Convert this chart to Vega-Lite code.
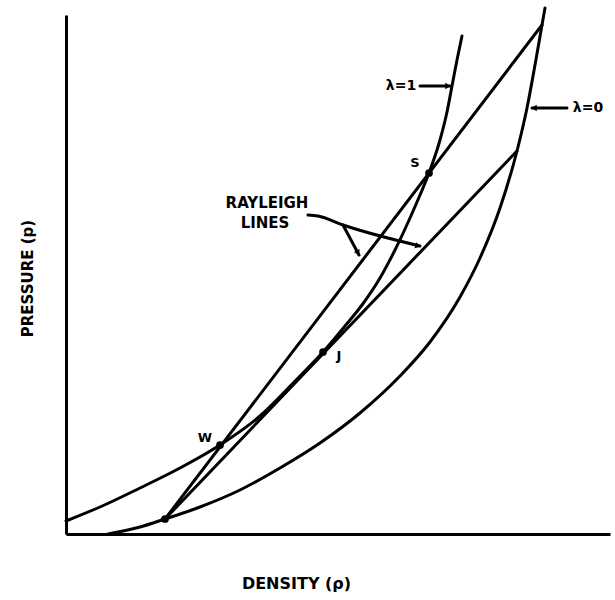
{
  "$schema": "https://vega.github.io/schema/vega-lite/v6.json",
  "width": 544,
  "height": 519,
  "autosize": {"type": "none"},
  "padding": {"left": 66, "top": 15, "right": 5, "bottom": 66},
  "background": "white",
  "config": {"view": {"stroke": null}},
  "datasets": {
    "lines": [
      {"id": "lam1", "o": 1, "x": 0, "y": 13},
      {"id": "lam1", "o": 2, "x": 34, "y": 27},
      {"id": "lam1", "o": 3, "x": 74, "y": 46},
      {"id": "lam1", "o": 4, "x": 114, "y": 66},
      {"id": "lam1", "o": 5, "x": 154, "y": 89},
      {"id": "lam1", "o": 6, "x": 194, "y": 118},
      {"id": "lam1", "o": 7, "x": 234, "y": 158},
      {"id": "lam1", "o": 8, "x": 257, "y": 182},
      {"id": "lam1", "o": 9, "x": 279, "y": 208},
      {"id": "lam1", "o": 10, "x": 296, "y": 229},
      {"id": "lam1", "o": 11, "x": 314, "y": 256},
      {"id": "lam1", "o": 12, "x": 329, "y": 284},
      {"id": "lam1", "o": 13, "x": 344, "y": 316},
      {"id": "lam1", "o": 14, "x": 354, "y": 339},
      {"id": "lam1", "o": 15, "x": 363, "y": 361},
      {"id": "lam1", "o": 16, "x": 374, "y": 394},
      {"id": "lam1", "o": 17, "x": 381, "y": 422},
      {"id": "lam1", "o": 18, "x": 386, "y": 448},
      {"id": "lam1", "o": 19, "x": 391, "y": 474},
      {"id": "lam1", "o": 20, "x": 396, "y": 498},
      {"id": "lam0", "o": 1, "x": 42, "y": 0},
      {"id": "lam0", "o": 2, "x": 74, "y": 7},
      {"id": "lam0", "o": 3, "x": 99, "y": 15},
      {"id": "lam0", "o": 4, "x": 134, "y": 27},
      {"id": "lam0", "o": 5, "x": 174, "y": 44},
      {"id": "lam0", "o": 6, "x": 214, "y": 66},
      {"id": "lam0", "o": 7, "x": 254, "y": 91},
      {"id": "lam0", "o": 8, "x": 294, "y": 121},
      {"id": "lam0", "o": 9, "x": 334, "y": 158},
      {"id": "lam0", "o": 10, "x": 364, "y": 192},
      {"id": "lam0", "o": 11, "x": 394, "y": 237},
      {"id": "lam0", "o": 12, "x": 414, "y": 276},
      {"id": "lam0", "o": 13, "x": 434, "y": 326},
      {"id": "lam0", "o": 14, "x": 451, "y": 383},
      {"id": "lam0", "o": 15, "x": 461, "y": 426},
      {"id": "lam0", "o": 16, "x": 469, "y": 469},
      {"id": "lam0", "o": 17, "x": 476, "y": 509},
      {"id": "lam0", "o": 18, "x": 479, "y": 526},
      {"id": "rayU", "o": 1, "x": 99, "y": 15},
      {"id": "rayU", "o": 2, "x": 476, "y": 509},
      {"id": "rayL", "o": 1, "x": 99, "y": 15},
      {"id": "rayL", "o": 2, "x": 451, "y": 383},
      {"id": "arr1", "o": 1, "x": 354, "y": 448},
      {"id": "arr1", "o": 2, "x": 384, "y": 448},
      {"id": "arr0", "o": 1, "x": 501, "y": 426},
      {"id": "arr0", "o": 2, "x": 466, "y": 426},
      {"id": "lead1", "o": 1, "x": 242, "y": 319},
      {"id": "lead1", "o": 2, "x": 252, "y": 318},
      {"id": "lead1", "o": 3, "x": 277, "y": 309},
      {"id": "lead1", "o": 4, "x": 354, "y": 288},
      {"id": "lead2", "o": 1, "x": 277, "y": 309},
      {"id": "lead2", "o": 2, "x": 293, "y": 279}
    ],
    "heads": [
      {"x": 382, "y": 448, "angle": 0},
      {"x": 468, "y": 426, "angle": 180},
      {"x": 352, "y": 288, "angle": 16},
      {"x": 292, "y": 281, "angle": 63}
    ],
    "points": [
      {"name": "S", "x": 363, "y": 361},
      {"name": "J", "x": 257, "y": 182},
      {"name": "W", "x": 154, "y": 89},
      {"name": "O", "x": 99, "y": 15}
    ],
    "labels": [
      {"text": "S", "x": 349, "y": 371, "size": 13},
      {"text": "J", "x": 273, "y": 178, "size": 13},
      {"text": "W", "x": 139, "y": 96, "size": 13},
      {"text": "λ=1", "x": 335, "y": 448, "size": 14},
      {"text": "λ=0", "x": 522, "y": 426, "size": 14},
      {"text": "RAYLEIGH", "x": 201, "y": 331, "size": 15},
      {"text": "LINES", "x": 199, "y": 311, "size": 15}
    ]
  },
  "layer": [
    {
      "data": {"name": "lines"},
      "mark": {"type": "line", "color": "black", "strokeWidth": 3, "strokeCap": "round", "strokeJoin": "round", "interpolate": "monotone"},
      "encoding": {
        "x": {"field": "x", "type": "quantitative", "scale": {"domain": [0, 544], "nice": false, "zero": false},
          "axis": {"title": "DENSITY (ρ)", "domain": true, "domainColor": "black", "domainWidth": 3, "ticks": false, "labels": false, "grid": false,
            "titleFont": "DejaVu Sans", "titleFontWeight": "bold", "titleFontSize": 16, "titleColor": "black",
            "titleX": 230, "titleY": 49, "titleBaseline": "middle", "titleAnchor": null}},
        "y": {"field": "y", "type": "quantitative", "scale": {"domain": [0, 519], "nice": false, "zero": false},
          "axis": {"title": "PRESSURE (p)", "domain": true, "domainColor": "black", "domainWidth": 3, "ticks": false, "labels": false, "grid": false,
            "titleFont": "DejaVu Sans", "titleFontWeight": "bold", "titleFontSize": 15, "titleColor": "black",
            "titleX": -39, "titleY": 263, "titleBaseline": "middle", "titleAngle": -90}},
        "detail": {"field": "id", "type": "nominal"},
        "order": {"field": "o", "type": "quantitative"}
      }
    },
    {
      "data": {"name": "heads"},
      "mark": {"type": "point", "shape": "triangle-right", "filled": true, "color": "black", "size": 40, "opacity": 1},
      "encoding": {
        "x": {"field": "x", "type": "quantitative"},
        "y": {"field": "y", "type": "quantitative"},
        "angle": {"field": "angle", "type": "quantitative", "scale": null}
      }
    },
    {
      "data": {"name": "points"},
      "mark": {"type": "circle", "color": "black", "size": 60, "opacity": 1},
      "encoding": {
        "x": {"field": "x", "type": "quantitative"},
        "y": {"field": "y", "type": "quantitative"}
      }
    },
    {
      "data": {"name": "labels"},
      "mark": {"type": "text", "font": "DejaVu Sans", "fontWeight": "bold", "color": "black", "align": "center", "baseline": "middle"},
      "encoding": {
        "x": {"field": "x", "type": "quantitative"},
        "y": {"field": "y", "type": "quantitative"},
        "text": {"field": "text"},
        "size": {"field": "size", "type": "quantitative", "scale": null}
      }
    }
  ]
}
